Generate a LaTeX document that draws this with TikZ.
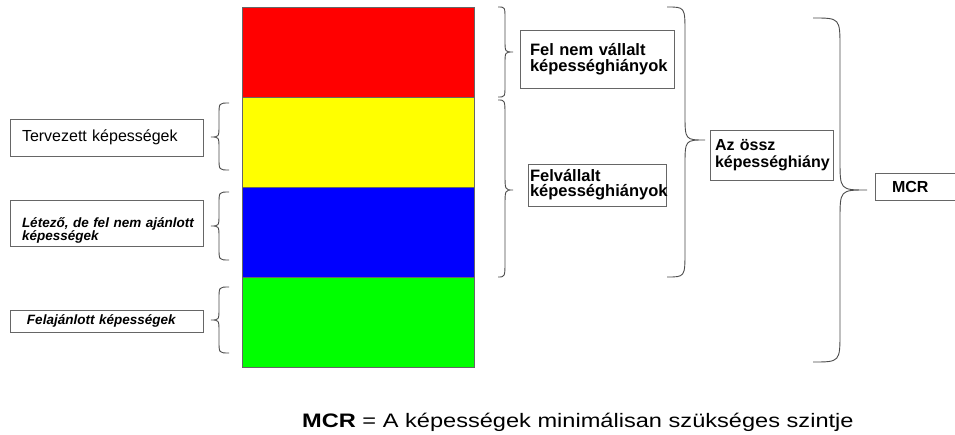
\documentclass[tikz,border=0pt]{standalone}
\usepackage{fontspec}
\usepackage{graphicx}
\setmainfont{Liberation Sans}
\tikzset{
  brc/.style={draw=black!70, line width=0.9pt},
  box/.style={draw=black!60, line width=0.8pt, fill=white, inner ysep=0pt, align=left},
  band/.style={draw=black!60, line width=0.6pt, inner sep=0pt, minimum width=232pt, minimum height=90pt, anchor=north west},
}
\newcommand{\mybrace}[7]{\draw[brc] (#1,#4) .. controls (#2,#4) .. (#2,#4+#7) -- (#2,#5-#7) .. controls (#2,#5) .. (#3,#5) .. controls (#2,#5) .. (#2,#5+#7) -- (#2,#6-#7) .. controls (#2,#6) .. (#1,#6);}
\begin{document}
\begin{tikzpicture}[x=1pt,y=-1pt]
\useasboundingbox[fill=white] (0,0) rectangle (955,435);

% colour bands
\node[band, fill={rgb,255:red,255;green,0;blue,0}] (red) at (242,7) {};
\node[band, fill={rgb,255:red,255;green,255;blue,0}] (yellow) at (242,97) {};
\node[band, fill={rgb,255:red,0;green,0;blue,255}] (blue) at (242,187) {};
\node[band, fill={rgb,255:red,0;green,255;blue,0}] (green) at (242,277) {};

% left braces
\mybrace{229}{219}{211}{103}{137}{170}{12}
\mybrace{229}{219}{211}{192}{226}{260}{12}
\mybrace{229}{219}{211}{287}{320}{353}{12}

% right braces
\mybrace{498}{505}{513}{7}{52}{97}{12}
\mybrace{498}{505}{513}{100}{190}{277}{16}
\mybrace{667}{685}{705}{7}{140}{277}{26}
\mybrace{813}{840}{867}{18}{190}{362}{30}

% left boxes
\node[box, text width=169pt, inner xsep=12pt, minimum height=37pt,
      font=\fontsize{16}{16}\selectfont] (terv) at (106.5,137.5) {Tervezett képességek};
\node[box, text width=169pt, inner xsep=12pt, minimum height=46pt,
      font=\fontsize{13.5}{13}\selectfont\bfseries\itshape] (letezo) at (106.5,223)
      {\rule{0pt}{24pt}\mbox{Létező, de fel nem ajánlott}\\\mbox{képességek}};
\node[box, text width=159pt, inner xsep=17pt, minimum height=22pt,
      font=\fontsize{13.5}{13}\selectfont\bfseries\itshape] (felaj) at (106.5,321) {\mbox{Felajánlott képességek}};

% right boxes
\node[box, text width=134pt, inner xsep=10pt, minimum height=58pt,
      font=\fontsize{16.5}{16}\selectfont\bfseries] (felnem) at (597,59)
      {\mbox{Fel nem vállalt}\\\mbox{képességhiányok}};
\node[box, text width=134pt, inner xsep=2pt, minimum height=42pt,
      font=\fontsize{16.5}{15}\selectfont\bfseries] (felvall) at (597,185)
      {\mbox{Felvállalt}\\\mbox{képességhiányok}};
\node[box, text width=113pt, inner xsep=5pt, minimum height=50pt,
      font=\fontsize{16}{17}\selectfont\bfseries] (ossz) at (771.5,155)
      {\mbox{Az össz}\\\mbox{képességhiány}};
\node[box, text width=56pt, inner xsep=17pt, minimum height=27pt,
      font=\fontsize{16}{16}\selectfont\bfseries] (mcr) at (920,186.5) {MCR};

% legend
\node[anchor=base west, inner sep=0pt] (legend) at (302,427)
  {\fontsize{19.5}{20}\selectfont\scalebox{1.21}[1]{\textbf{MCR} = A képességek minimálisan szükséges szintje}};
\end{tikzpicture}
\end{document}
